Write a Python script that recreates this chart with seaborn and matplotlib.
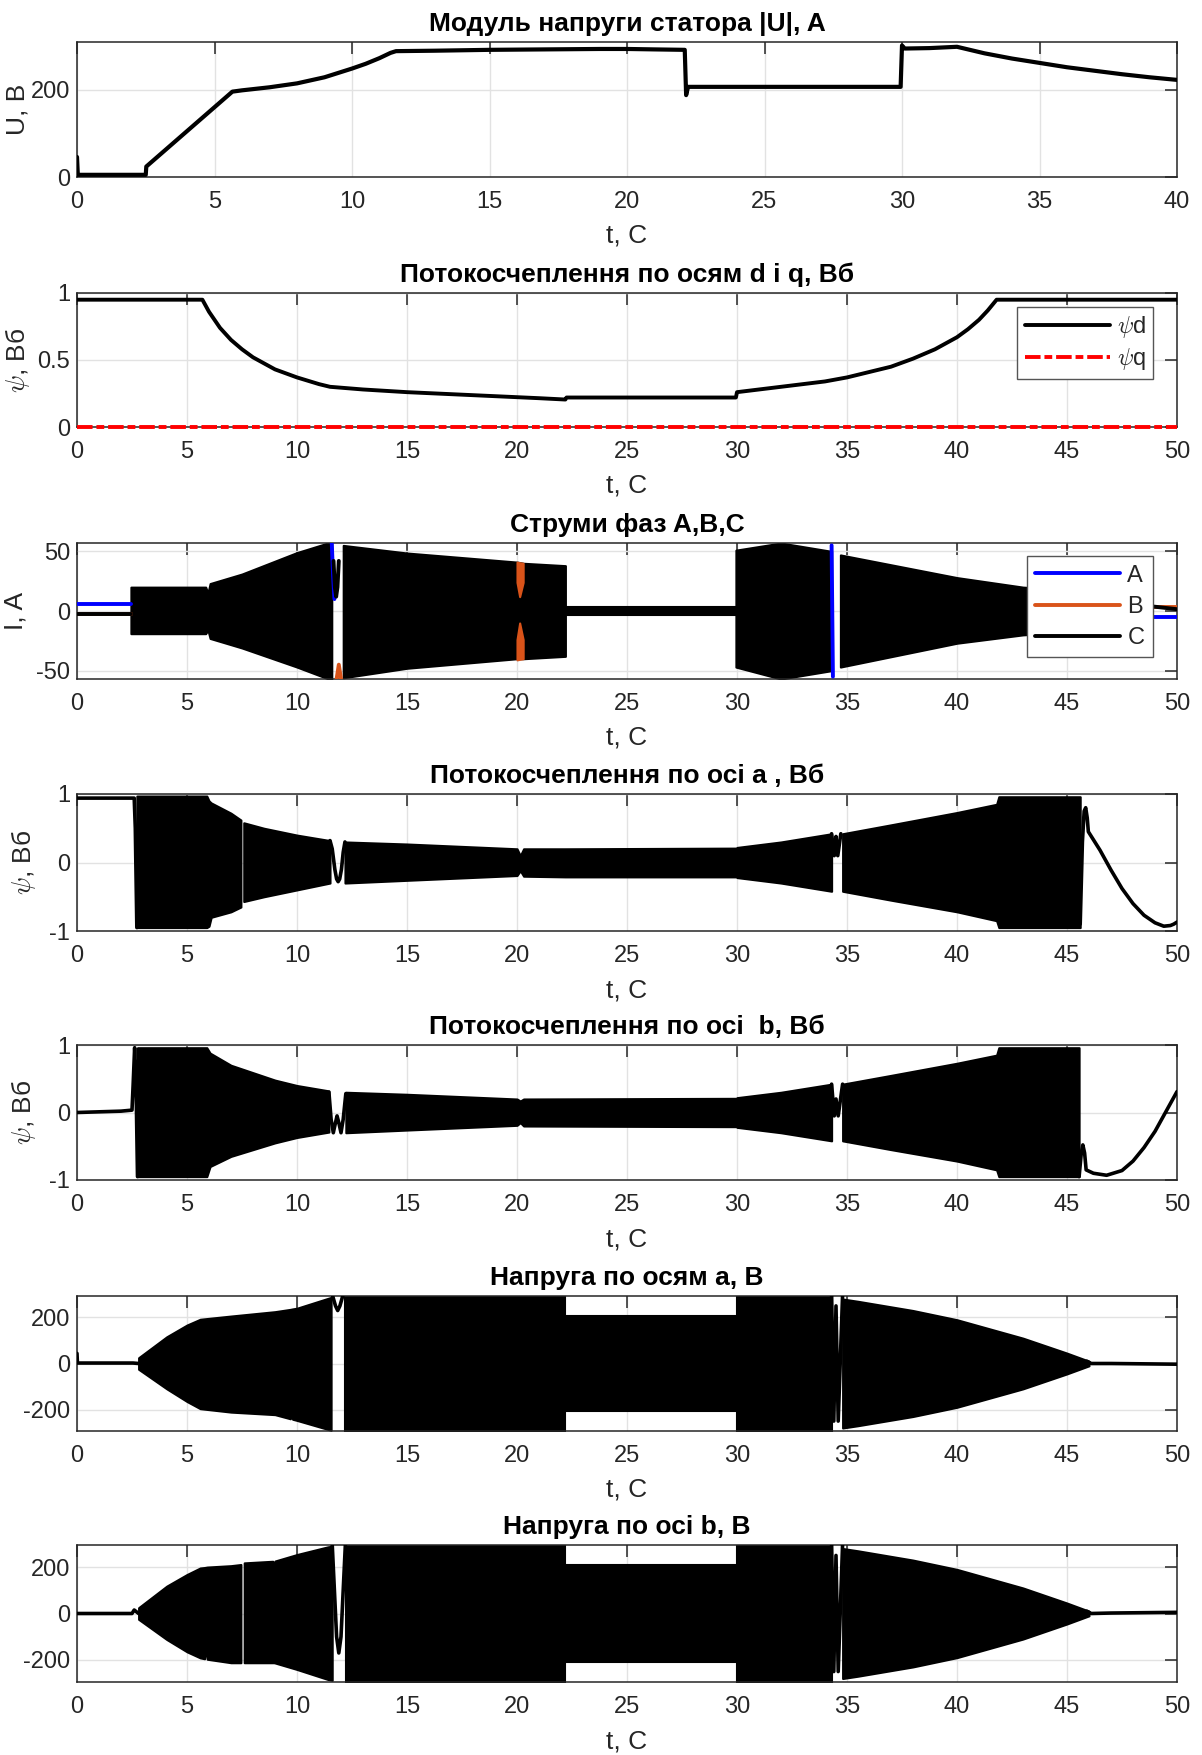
import numpy as np
import pandas as pd
import matplotlib
matplotlib.use("Agg")
import matplotlib.pyplot as plt
from matplotlib.lines import Line2D
import seaborn as sns

# ---------------- data ----------------
# Panel 1: |U|
u_t = [0, 0.03, 2.5, 2.52, 5.65, 6.0, 7.0, 8.0, 9.0, 10.0, 10.5, 11.0, 11.4, 11.6, 13, 15, 17, 19,
       20, 21, 22.1, 22.15, 22.22, 22.3, 26, 29.95, 30.0, 30.1, 31, 32, 33, 34, 35, 36, 37, 38, 39, 40]
u_v = [46, 5, 5, 24, 196, 199, 206, 215, 229, 249, 260, 273, 285, 289, 290, 292, 293, 294,
       294, 293, 292, 188, 207, 207, 207, 207, 302, 295, 296, 299, 284, 272, 262, 252, 244, 236, 229, 223]

# Panel 2: psi d / psi q
psid_t = [0, 5.7, 6.0, 6.5, 7, 7.5, 8, 9, 10, 11, 11.5, 13, 15, 17, 19, 21, 22.2, 22.25, 29.95, 30.0,
          31, 32, 33, 34, 35, 36, 37, 38, 39, 40, 40.5, 41, 41.4, 41.8, 50]
psid_v = [0.95, 0.95, 0.86, 0.74, 0.65, 0.58, 0.52, 0.43, 0.37, 0.32, 0.30, 0.28, 0.26, 0.245, 0.23,
          0.215, 0.205, 0.22, 0.22, 0.26, 0.28, 0.30, 0.32, 0.34, 0.37, 0.41, 0.45, 0.51, 0.58, 0.67,
          0.73, 0.80, 0.87, 0.95, 0.95]
psiq_t = [0, 50]
psiq_v = [0, 0]

# Panel 3: phase currents (dense oscillation envelopes + slow parts)
cur_seg = [1, 1, 1, 1, 1, 1, 1, 2, 2, 2, 2, 2, 3, 3, 4, 4, 4, 5, 5, 5, 5]
cur_t = [2.45, 5.85, 5.95, 6.05, 7.5, 10, 11.58, 12.1, 15, 20.0, 20.3, 22.2, 22.2, 30.0,
         29.95, 32, 34.3, 34.7, 40, 43, 45.9]
cur_up = [20, 20, 15, 23, 31, 49, 58, 55, 48.6, 41, 40, 38, 3.5, 3.5, 51, 57, 50, 47, 28, 20, 17]
cur_lo = [-19, -19, -16, -23, -31, -47, -58, -56, -48, -40, -40, -38, -3.5, -3.5, -47, -57, -50,
          -47, -27, -20, -17]
curB_band_seg = [1, 1, 1, 2, 2, 2]
curB_band_t = [20.0, 20.12, 20.28, 20.0, 20.12, 20.28]
curB_band_up = [41, 40.5, 40, -24, -10, -24]
curB_band_lo = [24, 12, 24, -41, -40.5, -40]
curA_piece = [1, 1, 2, 2, 3, 3, 3, 4, 4]
curA_t = [0, 2.45, 45.9, 50, 11.58, 11.64, 11.7, 34.3, 34.36]
curA_v = [5.5, 5.5, -5, -5, 57, 30, 10, 55, -55]
curB_piece = [1, 1, 2, 2, 3, 3, 3]
curB_t = [0, 2.45, 45.9, 50, 11.8, 11.9, 12.0]
curB_v = [-2.5, -2.5, 3.5, 3.5, -57, -45, -57]
curC_piece = [1, 1, 2, 2, 2, 3, 3, 3, 3, 3]
curC_t = [0, 2.45, 45.9, 48.8, 50, 11.66, 11.72, 11.78, 11.84, 11.9]
curC_v = [-2.5, -2.5, 0.5, 4, 1.5, 42, 20, 12, 20, 42]

# Panel 4: psi a
psia_seg = [1, 1, 1, 1, 1, 1, 2, 2, 2, 2, 3, 3, 3, 3, 3, 3, 3, 4, 4, 4, 5, 5, 5, 5, 5, 5]
psia_t = [2.72, 5.9, 6.0, 6.1, 7.0, 7.45, 7.58, 8.5, 10, 11.5, 12.18, 15, 20.0, 20.15, 20.3, 22.2,
          30, 30.0, 32, 34.3, 34.8, 37, 40, 41.8, 41.9, 45.6]
psia_up = [0.97, 0.97, 0.9, 0.87, 0.72, 0.62, 0.58, 0.5, 0.40, 0.32, 0.3, 0.27, 0.2, 0.1, 0.2, 0.2,
           0.21, 0.22, 0.3, 0.42, 0.42, 0.55, 0.73, 0.85, 0.96, 0.96]
psia_lo = [-0.95, -0.95, -0.93, -0.8, -0.72, -0.65, -0.57, -0.5, -0.40, -0.30, -0.3, -0.26, -0.19,
           -0.12, -0.2, -0.21, -0.21, -0.22, -0.3, -0.42, -0.42, -0.55, -0.72, -0.85, -0.95, -0.95]
psia_piece = [1, 1, 1, 1, 2, 2, 2, 2, 2, 2, 2, 2, 2, 3, 3, 3, 3, 3, 4, 4, 4, 4, 4, 4, 4, 4, 4, 4,
              4, 4, 4, 4, 4, 4]
psia_lt = [0, 2.6, 2.65, 2.72, 11.5, 11.6, 11.72, 11.8, 11.87, 11.94, 12.02, 12.1, 12.18,
           34.3, 34.42, 34.5, 34.58, 34.72, 45.6, 45.7, 45.78, 45.85, 45.92, 45.97, 46.5, 47, 47.5,
           48, 48.5, 49, 49.4, 49.7, 49.85, 50]
psia_lv = [0.94, 0.94, 0.5, -0.95, 0.32, 0.2, -0.1, -0.24, -0.28, -0.24, -0.1, 0.15, 0.3,
           0.42, 0.1, 0.38, 0.1, 0.42, -0.9, 0.3, 0.75, 0.8, 0.65, 0.45, 0.18, -0.11, -0.38,
           -0.6, -0.77, -0.88, -0.93, -0.92, -0.9, -0.87]

# Panel 5: psi b
psib_seg = [1, 1, 1, 1, 1, 1, 1, 2, 2, 2, 2, 2, 2, 3, 3, 3, 4, 4, 4, 4, 4, 4]
psib_t = [2.75, 5.9, 6.05, 7.0, 9.0, 10, 11.45, 12.22, 15, 20.0, 20.15, 20.3, 30, 30.0, 32, 34.3,
          34.8, 37, 40, 41.8, 41.9, 45.55]
psib_up = [0.96, 0.96, 0.88, 0.7, 0.48, 0.4, 0.32, 0.3, 0.27, 0.2, 0.17, 0.2, 0.21, 0.22, 0.3, 0.42,
           0.42, 0.55, 0.73, 0.85, 0.96, 0.96]
psib_lo = [-0.95, -0.95, -0.8, -0.65, -0.45, -0.37, -0.29, -0.3, -0.26, -0.19, -0.15, -0.2, -0.21,
           -0.22, -0.3, -0.42, -0.42, -0.55, -0.72, -0.85, -0.95, -0.95]
psib_piece = [1, 1, 1, 1, 1, 1, 1, 1, 2, 2, 2, 2, 2, 2, 2, 2, 2, 3, 3, 3, 3, 3, 4, 4, 4, 4, 4, 4,
              4, 4, 4, 4, 4, 4]
psib_lt = [0, 1, 2, 2.5, 2.55, 2.62, 2.68, 2.75, 11.45, 11.55, 11.65, 11.75, 11.82, 11.9, 12.0,
           12.1, 12.22, 34.3, 34.42, 34.5, 34.6, 34.8, 45.55, 45.65, 45.72, 45.8, 45.87, 46.2,
           46.8, 47.5, 48, 48.5, 49, 50]
psib_lv = [0, 0.01, 0.02, 0.035, 0.4, 0.96, 0.5, -0.95, 0.3, -0.1, -0.3, -0.15, -0.05, -0.15, -0.3,
           -0.1, 0.28, 0.42, -0.05, 0.2, -0.05, 0.42, -0.95, -0.6, -0.48, -0.6, -0.85, -0.9,
           -0.93, -0.86, -0.72, -0.52, -0.28, 0.31]

# Panel 6: U a
ua_seg = [1, 1, 1, 1, 1, 1, 1, 1, 1, 1, 1, 2, 2, 3, 3, 4, 4, 5, 5, 5, 5, 5, 5, 5]
ua_t = [2.8, 4.08, 5.0, 5.6, 7, 9, 9.7, 9.75, 9.8, 10, 11.55, 12.2, 22.2, 22.2, 30, 30, 34.3, 34.8,
        35.5, 38, 40, 43, 45, 46]
ua_up = [25, 116, 167, 192, 206, 225, 235, 236, 237, 240, 287, 300, 300, 207, 207, 300, 300, 280,
         270, 230, 190, 110, 45, 10]
ua_lo = [-25, -110, -165, -196, -211, -222, -240, -200, -242, -247, -290, -300, -300, -207, -207,
         -300, -300, -280, -270, -230, -190, -110, -45, -10]
ua_piece = [1, 1, 1, 1, 2, 2, 2, 2, 2, 3, 3, 3, 3, 3, 4, 4, 4, 4]
ua_lt = [0, 0.02, 2.55, 2.8, 11.6, 11.75, 11.85, 11.95, 12.1, 34.3, 34.4, 34.5, 34.6, 34.8,
         45.9, 46.1, 47, 50]
ua_lv = [44, 2, 2, 0, 300, 250, 230, 250, 300, 300, -250, 250, -250, 300, 10, 0, 0, -3]

# Panel 7: U b
ub_seg = [1, 1, 1, 1, 1, 1, 1, 1, 1, 2, 2, 2, 2, 2, 2, 2, 3, 3, 4, 4, 5, 5, 6, 6, 6, 6, 6, 6, 6]
ub_t = [2.8, 4.08, 5.0, 5.6, 5.8, 5.86, 5.92, 7.0, 7.45, 7.6, 8.9, 8.95, 9.0, 10, 11.4, 11.6, 12.24,
        22.2, 22.2, 30, 30, 34.3, 34.8, 35.5, 38, 40, 43, 45, 46]
ub_up = [25, 118, 168, 196, 198, 199, 200, 206, 211, 218, 225, 165, 226, 254, 287, 290, 300, 300,
         207, 207, 300, 300, 280, 270, 230, 190, 110, 45, 10]
ub_lo = [-25, -112, -165, -191, -195, -140, -197, -212, -212, -212, -212, -212, -213, -241, -284,
         -288, -300, -300, -207, -207, -300, -300, -280, -270, -230, -190, -110, -45, -10]
ub_piece = [1, 1, 1, 1, 2, 2, 2, 2, 2, 2, 2, 3, 3, 3, 3, 3, 4, 4, 4, 4]
ub_lt = [0, 2.5, 2.6, 2.8, 11.6, 11.7, 11.8, 11.9, 12.0, 12.1, 12.2, 34.3, 34.4, 34.5, 34.6, 34.8,
         45.9, 46.1, 47, 50]
ub_lv = [0, 0, 15, 0, 300, 100, -100, -170, -100, 100, 300, 300, -250, 250, -250, 300, 10, 0, 2, 5]

titles = ["Модуль напруги статора |U|, A",
          "Потокосчеплення по осям d і q, Вб",
          "Струми фаз A,B,C",
          "Потокосчеплення по осі a , Вб",
          "Потокосчеплення по осі  b, Вб",
          "Напруга по осям a, В",
          "Напруга по осі b, В"]
xlabel = "t, С"

# ---------------- style ----------------
sns.set_theme(style="white")
plt.rcParams.update({
    "font.family": ["Liberation Sans", "DejaVu Sans"],
    "mathtext.fontset": "cm",
    "axes.unicode_minus": False,
})

W, H = 1202, 1755
L, R = 77, 1177
rows = [(42, 177), (293, 427), (543, 679), (794, 931), (1045, 1180), (1296, 1431), (1545, 1682)]
fig = plt.figure(figsize=(W / 100, H / 100), dpi=100)
axes = [fig.add_axes([L / W, 1 - b / H, (R - L) / W, (b - t) / H]) for t, b in rows]

BLACK, BLUE, ORANGE, RED = "#000000", "#0000FF", "#D95319", "#FF0000"
TICK_FS, LAB_FS, TITLE_FS = 17, 19, 19


def line(ax, t, v, piece=None, color=BLACK, lw=2.8, ls="-", clip=True):
    df = pd.DataFrame({"t": t, "v": v, "p": piece if piece is not None else [0] * len(t)})
    n0 = len(ax.lines)
    sns.lineplot(data=df, x="t", y="v", units="p", estimator=None, sort=False, ax=ax,
                 color=color, linewidth=lw, linestyle=ls, legend=False)
    for l in ax.lines[n0:]:
        l.set_zorder(3)
        if not clip:
            l.set_clip_on(False)


def band(ax, seg, t, up, lo, color=BLACK, z=2):
    df = pd.DataFrame({"s": seg, "t": t, "u": up, "l": lo})
    for _, g in df.groupby("s"):
        ax.fill_between(g["t"], g["l"], g["u"], color=color, edgecolor=color, lw=1.5, zorder=z)


def style(ax, xmax, ylim, yticks, yticklabels, title, ylabel=None, ylx=None):
    ax.set_xlim(0, xmax)
    ax.set_ylim(*ylim)
    ax.set_xticks(list(range(0, xmax + 1, 5)))
    ax.set_xticklabels([str(v) for v in range(0, xmax + 1, 5)])
    ax.set_yticks(yticks)
    ax.set_yticklabels(yticklabels)
    ax.grid(True, color="#e2e2e2", lw=1.0)
    ax.set_axisbelow(True)
    ax.tick_params(direction="in", length=8.5, width=1.1, top=True, right=True,
                   labelsize=TICK_FS, colors="#262626")
    ax.tick_params(axis="x", pad=10)
    ax.tick_params(axis="y", pad=5)
    for s in ax.spines.values():
        s.set_linewidth(1.1)
        s.set_color("#262626")
        s.set_visible(True)
    ax.set_title(title, fontsize=TITLE_FS, fontweight="bold", pad=8, color="#000000")
    ax.set_xlabel(xlabel, fontsize=LAB_FS, labelpad=8, color="#262626")
    if ylabel:
        ax.set_ylabel(ylabel, fontsize=LAB_FS, color="#262626")
        ax.yaxis.set_label_coords(ylx, 0.5)
    else:
        ax.set_ylabel("")


leg_kw = dict(loc="upper right", borderaxespad=0, fontsize=TICK_FS, handlelength=3.6,
              handletextpad=0.3, fancybox=False, framealpha=1, edgecolor="#555555")

# Panel 1
ax = axes[0]
line(ax, u_t, u_v, lw=3.0)
style(ax, 40, (0, 310), [0, 200], ["0", "200"], titles[0], "U, В", -0.043)

# Panel 2
ax = axes[1]
line(ax, psid_t, psid_v, lw=2.8)
line(ax, psiq_t, psiq_v, color=RED, lw=2.8, ls=(0, (4, 1, 2, 1)), clip=False)
style(ax, 50, (0, 1), [0, 0.5, 1], ["0", "0.5", "1"], titles[1], r"$\psi$, Вб", -0.041)
hs = [Line2D([], [], color=BLACK, lw=2.8), Line2D([], [], color=RED, lw=2.8, ls=(0, (4, 1, 2, 1)))]
ax.legend(hs, [r"$\psi$d", r"$\psi$q"], bbox_to_anchor=(0.978, 0.896), labelspacing=0.26,
          borderpad=0.3, **leg_kw)

# Panel 3
ax = axes[2]
line(ax, curA_t, curA_v, curA_piece, color=BLUE, lw=2.8)
line(ax, curB_t, curB_v, curB_piece, color=ORANGE, lw=2.8)
band(ax, cur_seg, cur_t, cur_up, cur_lo)
band(ax, curB_band_seg, curB_band_t, curB_band_up, curB_band_lo, color=ORANGE, z=2.5)
line(ax, curC_t, curC_v, curC_piece, color=BLACK, lw=2.8)
style(ax, 50, (-57, 57), [-50, 0, 50], ["-50", "0", "50"], titles[2], "I, A", -0.045)
hs = [Line2D([], [], color=c, lw=2.8) for c in (BLUE, ORANGE, BLACK)]
ax.legend(hs, ["A", "B", "C"], bbox_to_anchor=(0.978, 0.904), labelspacing=0.39,
          borderpad=0.36, **leg_kw)

# Panel 4
ax = axes[3]
band(ax, psia_seg, psia_t, psia_up, psia_lo)
line(ax, psia_lt, psia_lv, psia_piece, lw=2.6)
style(ax, 50, (-1, 1), [-1, 0, 1], ["-1", "0", "1"], titles[3], r"$\psi$, Вб", -0.035)

# Panel 5
ax = axes[4]
band(ax, psib_seg, psib_t, psib_up, psib_lo)
line(ax, psib_lt, psib_lv, psib_piece, lw=2.6)
style(ax, 50, (-1, 1), [-1, 0, 1], ["-1", "0", "1"], titles[4], r"$\psi$, Вб", -0.035)

# Panel 6
ax = axes[5]
band(ax, ua_seg, ua_t, ua_up, ua_lo)
line(ax, ua_lt, ua_lv, ua_piece, lw=2.6)
style(ax, 50, (-293, 293), [-200, 0, 200], ["-200", "0", "200"], titles[5])

# Panel 7
ax = axes[6]
band(ax, ub_seg, ub_t, ub_up, ub_lo)
line(ax, ub_lt, ub_lv, ub_piece, lw=2.6)
style(ax, 50, (-295, 295), [-200, 0, 200], ["-200", "0", "200"], titles[6])

fig.savefig("out.png", dpi=100, facecolor="white")
